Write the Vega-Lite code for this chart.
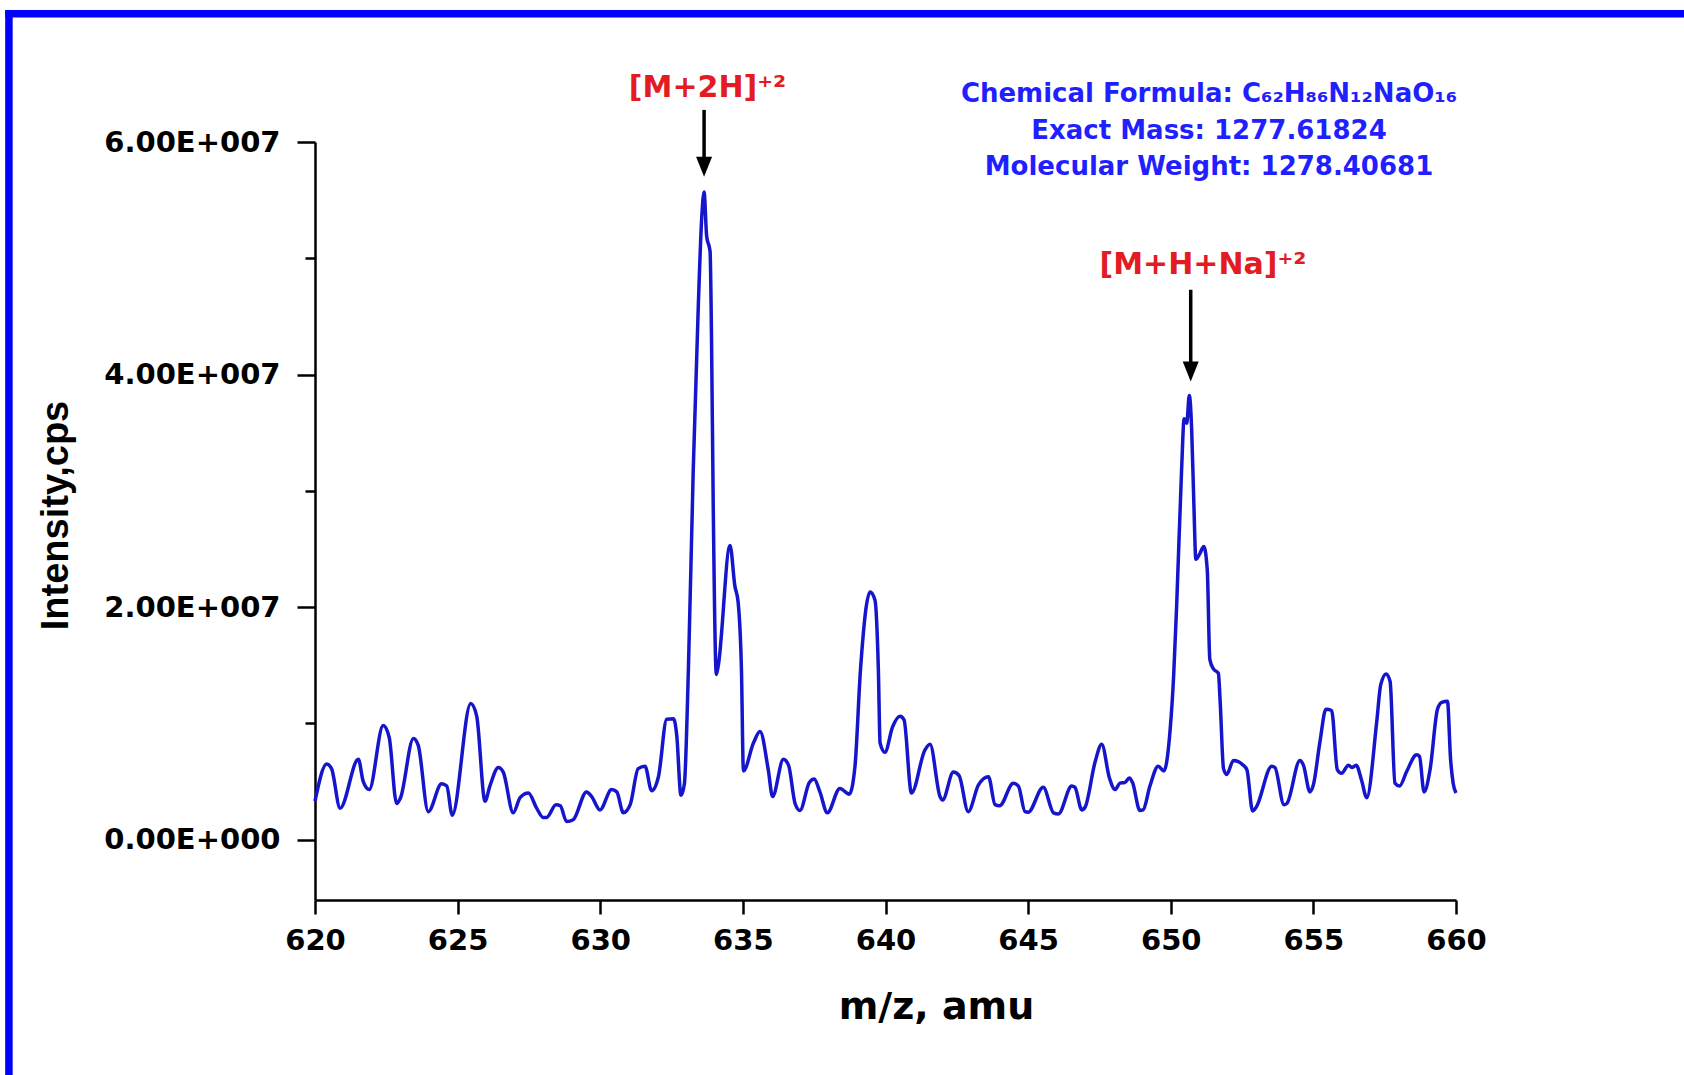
{
  "$schema": "https://vega.github.io/schema/vega-lite/v6.json",
  "width": 1141,
  "height": 758,
  "autosize": {"type": "none"},
  "padding": {"left": 315, "top": 142, "right": 228, "bottom": 175},
  "background": "white",
  "config": {"view": {"stroke": null}, "font": "DejaVu Sans"},
  "datasets": {
    "spectrum": [
      {"mz": 620.00, "intensity": 3300000},
      {"mz": 620.41, "intensity": 6500000},
      {"mz": 620.58, "intensity": 6100000},
      {"mz": 620.88, "intensity": 2700000},
      {"mz": 621.52, "intensity": 6900000},
      {"mz": 621.69, "intensity": 5000000},
      {"mz": 621.90, "intensity": 4300000},
      {"mz": 622.39, "intensity": 9800000},
      {"mz": 622.60, "intensity": 8800000},
      {"mz": 622.86, "intensity": 3100000},
      {"mz": 623.00, "intensity": 3600000},
      {"mz": 623.45, "intensity": 8700000},
      {"mz": 623.62, "intensity": 8100000},
      {"mz": 623.97, "intensity": 2400000},
      {"mz": 624.44, "intensity": 4800000},
      {"mz": 624.62, "intensity": 4600000},
      {"mz": 624.81, "intensity": 2100000},
      {"mz": 625.46, "intensity": 11700000},
      {"mz": 625.67, "intensity": 10600000},
      {"mz": 625.96, "intensity": 3300000},
      {"mz": 626.13, "intensity": 4600000},
      {"mz": 626.43, "intensity": 6200000},
      {"mz": 626.60, "intensity": 5800000},
      {"mz": 626.95, "intensity": 2300000},
      {"mz": 627.19, "intensity": 3600000},
      {"mz": 627.48, "intensity": 4000000},
      {"mz": 627.77, "intensity": 2700000},
      {"mz": 628.00, "intensity": 1900000},
      {"mz": 628.12, "intensity": 1900000},
      {"mz": 628.45, "intensity": 3000000},
      {"mz": 628.60, "intensity": 2900000},
      {"mz": 628.82, "intensity": 1550000},
      {"mz": 629.05, "intensity": 1700000},
      {"mz": 629.52, "intensity": 4100000},
      {"mz": 629.70, "intensity": 3700000},
      {"mz": 629.99, "intensity": 2550000},
      {"mz": 630.40, "intensity": 4300000},
      {"mz": 630.58, "intensity": 4100000},
      {"mz": 630.81, "intensity": 2300000},
      {"mz": 631.05, "intensity": 3000000},
      {"mz": 631.33, "intensity": 6100000},
      {"mz": 631.57, "intensity": 6300000},
      {"mz": 631.80, "intensity": 4200000},
      {"mz": 632.04, "intensity": 5400000},
      {"mz": 632.33, "intensity": 10350000},
      {"mz": 632.57, "intensity": 10400000},
      {"mz": 632.68, "intensity": 9000000},
      {"mz": 632.83, "intensity": 3800000},
      {"mz": 632.95, "intensity": 4800000},
      {"mz": 633.09, "intensity": 14600000},
      {"mz": 633.26, "intensity": 31800000},
      {"mz": 633.44, "intensity": 46100000},
      {"mz": 633.56, "intensity": 53600000},
      {"mz": 633.64, "intensity": 55700000},
      {"mz": 633.73, "intensity": 51900000},
      {"mz": 633.85, "intensity": 50600000},
      {"mz": 633.90, "intensity": 43300000},
      {"mz": 633.96, "intensity": 28900000},
      {"mz": 634.07, "intensity": 14200000},
      {"mz": 634.14, "intensity": 15000000},
      {"mz": 634.55, "intensity": 25300000},
      {"mz": 634.72, "intensity": 21800000},
      {"mz": 634.83, "intensity": 20500000},
      {"mz": 634.95, "intensity": 14600000},
      {"mz": 635.02, "intensity": 5900000},
      {"mz": 635.37, "intensity": 8300000},
      {"mz": 635.60, "intensity": 9300000},
      {"mz": 635.89, "intensity": 6000000},
      {"mz": 636.04, "intensity": 3700000},
      {"mz": 636.42, "intensity": 6900000},
      {"mz": 636.60, "intensity": 6400000},
      {"mz": 636.83, "intensity": 3100000},
      {"mz": 637.00, "intensity": 2500000},
      {"mz": 637.33, "intensity": 4900000},
      {"mz": 637.50, "intensity": 5200000},
      {"mz": 637.70, "intensity": 4100000},
      {"mz": 637.96, "intensity": 2300000},
      {"mz": 638.40, "intensity": 4400000},
      {"mz": 638.73, "intensity": 3900000},
      {"mz": 638.93, "intensity": 6300000},
      {"mz": 639.12, "intensity": 14500000},
      {"mz": 639.46, "intensity": 21300000},
      {"mz": 639.63, "intensity": 20600000},
      {"mz": 639.75, "intensity": 14600000},
      {"mz": 639.81, "intensity": 8300000},
      {"mz": 639.98, "intensity": 7500000},
      {"mz": 640.25, "intensity": 9700000},
      {"mz": 640.51, "intensity": 10600000},
      {"mz": 640.65, "intensity": 10300000},
      {"mz": 640.91, "intensity": 4000000},
      {"mz": 641.38, "intensity": 7700000},
      {"mz": 641.56, "intensity": 8200000},
      {"mz": 641.91, "intensity": 3700000},
      {"mz": 642.00, "intensity": 3400000},
      {"mz": 642.38, "intensity": 5800000},
      {"mz": 642.58, "intensity": 5500000},
      {"mz": 642.90, "intensity": 2400000},
      {"mz": 643.26, "intensity": 4700000},
      {"mz": 643.61, "intensity": 5400000},
      {"mz": 643.84, "intensity": 3000000},
      {"mz": 644.00, "intensity": 2900000},
      {"mz": 644.48, "intensity": 4850000},
      {"mz": 644.66, "intensity": 4600000},
      {"mz": 644.89, "intensity": 2400000},
      {"mz": 645.00, "intensity": 2350000},
      {"mz": 645.53, "intensity": 4500000},
      {"mz": 645.89, "intensity": 2300000},
      {"mz": 646.06, "intensity": 2200000},
      {"mz": 646.53, "intensity": 4600000},
      {"mz": 646.64, "intensity": 4500000},
      {"mz": 646.88, "intensity": 2550000},
      {"mz": 647.00, "intensity": 2800000},
      {"mz": 647.35, "intensity": 6700000},
      {"mz": 647.58, "intensity": 8200000},
      {"mz": 647.85, "intensity": 5300000},
      {"mz": 648.05, "intensity": 4300000},
      {"mz": 648.22, "intensity": 4850000},
      {"mz": 648.39, "intensity": 4900000},
      {"mz": 648.55, "intensity": 5300000},
      {"mz": 648.66, "intensity": 4900000},
      {"mz": 648.92, "intensity": 2500000},
      {"mz": 649.03, "intensity": 2550000},
      {"mz": 649.27, "intensity": 4600000},
      {"mz": 649.56, "intensity": 6300000},
      {"mz": 649.76, "intensity": 5900000},
      {"mz": 649.97, "intensity": 9200000},
      {"mz": 650.10, "intensity": 14000000},
      {"mz": 650.21, "intensity": 20300000},
      {"mz": 650.38, "intensity": 31800000},
      {"mz": 650.47, "intensity": 36200000},
      {"mz": 650.56, "intensity": 35800000},
      {"mz": 650.65, "intensity": 38200000},
      {"mz": 650.73, "intensity": 35500000},
      {"mz": 650.81, "intensity": 28900000},
      {"mz": 650.88, "intensity": 24100000},
      {"mz": 651.02, "intensity": 24600000},
      {"mz": 651.16, "intensity": 25200000},
      {"mz": 651.28, "intensity": 23200000},
      {"mz": 651.37, "intensity": 15500000},
      {"mz": 651.49, "intensity": 14700000},
      {"mz": 651.67, "intensity": 14300000},
      {"mz": 651.73, "intensity": 12000000},
      {"mz": 651.85, "intensity": 6100000},
      {"mz": 651.96, "intensity": 5600000},
      {"mz": 652.20, "intensity": 6800000},
      {"mz": 652.54, "intensity": 6400000},
      {"mz": 652.67, "intensity": 6000000},
      {"mz": 652.87, "intensity": 2450000},
      {"mz": 653.00, "intensity": 2800000},
      {"mz": 653.54, "intensity": 6300000},
      {"mz": 653.65, "intensity": 6200000},
      {"mz": 653.97, "intensity": 3000000},
      {"mz": 654.07, "intensity": 3100000},
      {"mz": 654.53, "intensity": 6800000},
      {"mz": 654.65, "intensity": 6400000},
      {"mz": 654.88, "intensity": 4100000},
      {"mz": 655.00, "intensity": 4700000},
      {"mz": 655.23, "intensity": 8400000},
      {"mz": 655.44, "intensity": 11200000},
      {"mz": 655.64, "intensity": 11100000},
      {"mz": 655.84, "intensity": 6000000},
      {"mz": 655.99, "intensity": 5700000},
      {"mz": 656.23, "intensity": 6400000},
      {"mz": 656.35, "intensity": 6200000},
      {"mz": 656.50, "intensity": 6400000},
      {"mz": 656.69, "intensity": 5100000},
      {"mz": 656.87, "intensity": 3600000},
      {"mz": 657.22, "intensity": 10100000},
      {"mz": 657.36, "intensity": 13300000},
      {"mz": 657.55, "intensity": 14250000},
      {"mz": 657.69, "intensity": 13600000},
      {"mz": 657.86, "intensity": 4850000},
      {"mz": 658.02, "intensity": 4600000},
      {"mz": 658.27, "intensity": 5850000},
      {"mz": 658.62, "intensity": 7300000},
      {"mz": 658.72, "intensity": 7150000},
      {"mz": 658.88, "intensity": 4100000},
      {"mz": 659.09, "intensity": 6000000},
      {"mz": 659.35, "intensity": 11200000},
      {"mz": 659.50, "intensity": 11800000},
      {"mz": 659.70, "intensity": 11900000},
      {"mz": 659.81, "intensity": 6900000},
      {"mz": 659.90, "intensity": 4850000},
      {"mz": 660.00, "intensity": 4000000}
    ],
    "ions": [
      {"mz": 633.76, "intensity": 63900000, "label": "[M+2H]⁺²"},
      {"mz": 651.13, "intensity": 48660000, "label": "[M+H+Na]⁺²"}
    ],
    "info": [
      {"mz": 651.34, "intensity": 63410000, "label": "Chemical Formula: C₆₂H₈₆N₁₂NaO₁₆"},
      {"mz": 651.34, "intensity": 60300000, "label": "Exact Mass: 1277.61824"},
      {"mz": 651.34, "intensity": 57120000, "label": "Molecular Weight: 1278.40681"}
    ],
    "arrows": [
      {"mz": 633.64, "top": 62760000, "base": 58400000, "head": 57870000},
      {"mz": 650.70, "top": 47290000, "base": 40920000, "head": 40260000}
    ]
  },
  "layer": [
    {
      "data": {"name": "spectrum"},
      "mark": {"type": "line", "color": "#1515cc", "strokeWidth": 3.5, "interpolate": "monotone"},
      "encoding": {
        "x": {
          "field": "mz", "type": "quantitative",
          "scale": {"domain": [620, 660], "nice": false, "zero": false},
          "axis": {
            "title": "m/z, amu",
            "values": [620, 625, 630, 635, 640, 645, 650, 655, 660],
            "format": "d",
            "grid": false,
            "domainColor": "black", "domainWidth": 2.5,
            "tickColor": "black", "tickWidth": 2.5, "tickSize": 14,
            "labelFont": "DejaVu Sans", "labelFontWeight": "bold", "labelFontSize": 29,
            "labelColor": "black", "labelPadding": 12, "labelFlush": false, "labelOverlap": false,
            "titleFont": "DejaVu Sans", "titleFontWeight": "bold", "titleFontSize": 38,
            "titleColor": "black", "titleX": 621, "titleY": 118,
            "titleAlign": "center", "titleBaseline": "alphabetic"
          }
        },
        "y": {
          "field": "intensity", "type": "quantitative",
          "scale": {"domain": [-5200000, 60000000], "nice": false, "zero": false},
          "axis": {
            "title": "Intensity,cps",
            "orient": "left",
            "values": [0, 20000000, 40000000, 60000000],
            "labelExpr": "datum.value == 0 ? '0.00E+000' : format(datum.value / 10000000, '.2f') + 'E+007'",
            "grid": false,
            "domainColor": "black", "domainWidth": 2.5,
            "tickColor": "black", "tickWidth": 2.5, "tickSize": 18,
            "labelFont": "DejaVu Sans", "labelFontWeight": "bold", "labelFontSize": 29,
            "labelColor": "black", "labelPadding": 17, "labelFlush": false, "labelOverlap": false,
            "titleFont": "Liberation Sans",
            "titleFontWeight": "bold", "titleFontSize": 38, "titleColor": "black",
            "titleX": -259, "titleY": 373, "titleAngle": 270,
            "titleAlign": "center", "titleBaseline": "middle"
          }
        }
      }
    },
    {
      "data": {"name": "spectrum"},
      "mark": {"type": "line", "strokeOpacity": 0},
      "encoding": {
        "x": {"field": "mz", "type": "quantitative"},
        "y": {
          "field": "intensity", "type": "quantitative",
          "axis": {
            "orient": "left", "title": null,
            "values": [10000000, 30000000, 50000000],
            "labels": false, "domain": false, "grid": false,
            "tickColor": "black", "tickWidth": 2.5, "tickSize": 10
          }
        }
      }
    },
    {
      "data": {"values": [{}]},
      "mark": {"type": "rule", "color": "#0000ff", "strokeWidth": 7.5},
      "encoding": {
        "x": {"datum": 609.14, "type": "quantitative"},
        "x2": {"datum": 700},
        "y": {"datum": 71030000, "type": "quantitative", "axis": null}
      }
    },
    {
      "data": {"values": [{}]},
      "mark": {"type": "rule", "color": "#0000ff", "strokeWidth": 7.5},
      "encoding": {
        "x": {"datum": 609.27, "type": "quantitative"},
        "y": {"datum": 71340000, "type": "quantitative", "axis": null},
        "y2": {"datum": -40000000}
      }
    },
    {
      "data": {"name": "arrows"},
      "mark": {"type": "rule", "color": "black", "strokeWidth": 3.5},
      "encoding": {
        "x": {"field": "mz", "type": "quantitative"},
        "y": {"field": "top", "type": "quantitative", "axis": null},
        "y2": {"field": "base"}
      }
    },
    {
      "data": {"name": "arrows"},
      "mark": {"type": "point", "shape": "M-0.8,-1L0.8,-1L0,1Z", "size": 400, "filled": true, "color": "black", "opacity": 1},
      "encoding": {
        "x": {"field": "mz", "type": "quantitative"},
        "y": {"field": "head", "type": "quantitative", "axis": null}
      }
    },
    {
      "data": {"name": "ions"},
      "mark": {"type": "text", "color": "#e31b23", "font": "DejaVu Sans", "fontWeight": "bold", "fontSize": 30, "align": "center", "baseline": "alphabetic"},
      "encoding": {
        "x": {"field": "mz", "type": "quantitative"},
        "y": {"field": "intensity", "type": "quantitative", "axis": null},
        "text": {"field": "label"}
      }
    },
    {
      "data": {"name": "info"},
      "mark": {"type": "text", "color": "#1f1fff", "font": "DejaVu Sans", "fontWeight": "bold", "fontSize": 26, "align": "center", "baseline": "alphabetic"},
      "encoding": {
        "x": {"field": "mz", "type": "quantitative"},
        "y": {"field": "intensity", "type": "quantitative", "axis": null},
        "text": {"field": "label"}
      }
    }
  ],
  "resolve": {"axis": {"y": "independent"}}
}
